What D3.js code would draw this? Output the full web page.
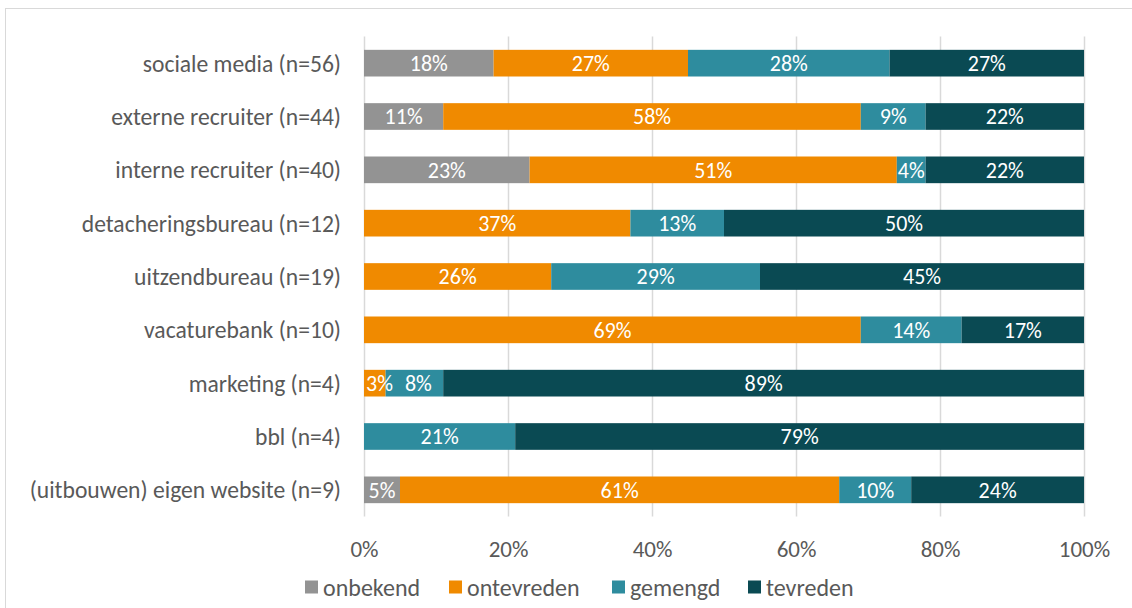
<!DOCTYPE html>
<html>
<head>
<meta charset="utf-8">
<script src="https://cdn.jsdelivr.net/npm/d3@7"></script>
<style>
  body { margin: 0; background: #fff; }
  svg text { font-family: Carlito, Calibri, Lato, "Open Sans", sans-serif; font-weight: 300; }
</style>
</head>
<body>
<svg id="chart" width="1132" height="608"></svg>
<script>
const categories = [
  'sociale media (n=56)',
  'externe recruiter (n=44)',
  'interne recruiter (n=40)',
  'detacheringsbureau (n=12)',
  'uitzendbureau (n=19)',
  'vacaturebank (n=10)',
  'marketing (n=4)',
  'bbl (n=4)',
  '(uitbouwen) eigen website (n=9)'
];
const seriesNames = ['onbekend', 'ontevreden', 'gemengd', 'tevreden'];
const onbekend   = [18, 11, 23, 0, 0, 0, 0, 0, 5];
const ontevreden = [27, 58, 51, 37, 26, 69, 3, 0, 61];
const gemengd    = [28, 9, 4, 13, 29, 14, 8, 21, 10];
const tevreden   = [27, 22, 22, 50, 45, 17, 89, 79, 24];
const colors = ['#939393', '#f08a00', '#2e8c9e', '#0a4a53'];
const ticks = [0, 20, 40, 60, 80, 100];

const svg = d3.select('#chart');

// outer chart border (right/bottom edges fall outside the picture)
svg.append('rect')
  .attr('x', 5.5).attr('y', 8.5)
  .attr('width', 1200).attr('height', 700)
  .attr('fill', 'none').attr('stroke', '#d9d9d9').attr('stroke-width', 1);

const x = d3.scaleLinear().domain([0, 100]).range([364, 1084]);
const y = d3.scaleBand().domain(categories).range([36.5, 516.5]).paddingInner(0.5).paddingOuter(0.25);

const rows = categories.map((c, i) => ({
  cat: c, onbekend: onbekend[i], ontevreden: ontevreden[i], gemengd: gemengd[i], tevreden: tevreden[i]
}));
const stack = d3.stack().keys(seriesNames)(rows);

// gridlines
svg.append('g').selectAll('line').data(ticks).join('line')
  .attr('x1', d => Math.round(x(d)) + 0.5).attr('x2', d => Math.round(x(d)) + 0.5)
  .attr('y1', 36.5).attr('y2', 516.5)
  .attr('stroke', '#d9d9d9').attr('stroke-width', 1.5);

// bars
svg.append('g').selectAll('g').data(stack).join('g')
  .attr('fill', (d, i) => colors[i])
  .selectAll('rect').data(d => d.filter(s => s[1] - s[0] > 0)).join('rect')
  .attr('x', d => x(d[0]))
  .attr('y', d => y(d.data.cat))
  .attr('width', d => x(d[1]) - x(d[0]))
  .attr('height', y.bandwidth());

// value labels, drawn on top of all bars
const segs = stack.flatMap(layer => layer.filter(s => s[1] - s[0] > 0));
const lastEnd = {};
svg.append('g').selectAll('text').data(segs).join('text')
  .attr('y', d => y(d.data.cat) + y.bandwidth() / 2)
  .attr('dy', '0.36em')
  .attr('text-anchor', 'start')
  .attr('fill', '#fff')
  .style('font-size', '22px')
  .text(d => (d[1] - d[0]) + '%')
  .each(function (d) {
    const w = this.getComputedTextLength();
    const x0 = x(d[0]), x1 = x(d[1]);
    let start = w > x1 - x0 ? x0 + 2 : (x0 + x1 - w) / 2;
    const prev = lastEnd[d.data.cat];
    if (prev !== undefined && start < prev + 12) start = prev + 12;
    lastEnd[d.data.cat] = start + w;
    d3.select(this).attr('x', start);
  });

// category axis labels
svg.append('g').selectAll('text').data(categories).join('text')
  .attr('x', 341)
  .attr('y', d => y(d) + y.bandwidth() / 2)
  .attr('dy', '0.36em')
  .attr('text-anchor', 'end')
  .attr('fill', '#595959')
  .style('font-size', '23.6px')
  .text(d => d);

// x axis labels
const xAxis = svg.append('g')
  .attr('transform', 'translate(0,549)')
  .call(d3.axisBottom(x).tickValues(ticks).tickFormat(d => d + '%').tickSize(0).tickPadding(0));
xAxis.select('.domain').remove();
xAxis.selectAll('text')
  .attr('fill', '#595959')
  .attr('y', 0)
  .attr('dy', '0.36em')
  .style('font-size', '23px');

// legend
const legendX = [305, 449, 612, 748];
const legend = svg.append('g').selectAll('g').data(seriesNames).join('g')
  .attr('transform', (d, i) => `translate(${legendX[i]},587)`);
legend.append('rect')
  .attr('x', 0).attr('y', -6.5).attr('width', 13).attr('height', 13)
  .attr('fill', (d, i) => colors[i]);
legend.append('text')
  .attr('x', 18).attr('y', 0).attr('dy', '0.36em')
  .attr('fill', '#595959')
  .style('font-size', '24px')
  .text(d => d);
</script>
</body>
</html>
